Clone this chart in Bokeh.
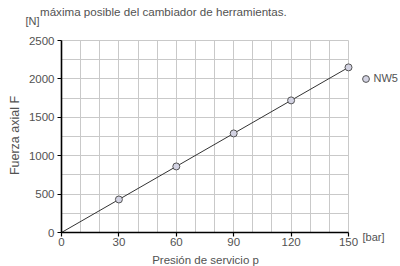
import math
from bokeh.plotting import figure
from bokeh.models import (Range1d, FixedTicker, Label, Legend, LegendItem,
                          LinearAxis, Grid)
from bokeh.embed import file_html
from bokeh.resources import INLINE

# ---- data ----
pressure = [0, 30, 60, 90, 120, 150]
force = [0, 430, 860, 1290, 1720, 2150]
marker_pressure = [30, 60, 90, 120, 150]
marker_force = [430, 860, 1290, 1720, 2150]
x_ticks = [0, 30, 60, 90, 120, 150]
y_ticks = [0, 500, 1000, 1500, 2000, 2500]
x_grid_step = 10
y_grid_step = 250
series_name = "NW5"
title_text = "máxima posible del cambiador de herramientas."
x_label = "Presión de servicio p"
y_label = "Fuerza axial F"
x_unit = "[bar]"
y_unit = "[N]"

FONT = "Liberation Sans"
TXT = "#525252"

# canvas and plotting-area geometry (pixels)
W, H = 400, 266
AL, AR, AT, AB = 61, 348, 40, 232      # data-area edges inside the canvas
XMAX, YMAX = x_ticks[-1], y_ticks[-1]
px_x = (AR - AL) / XMAX
px_y = (AB - AT) / YMAX
x0, x1 = -AL / px_x, XMAX + (W - AR) / px_x
y0, y1 = -(H - AB) / px_y, YMAX + AT / px_y


def dx(px):
    return x0 + px / px_x


def dy(py):
    return y1 - py / px_y


p = figure(width=W, height=H, output_backend="svg", toolbar_location=None,
           x_range=Range1d(x0, x1), y_range=Range1d(y0, y1),
           x_axis_type=None, y_axis_type=None,
           min_border=0)
p.outline_line_color = None
p.background_fill_color = "white"
p.border_fill_color = "white"

# grids limited to the data area
gx = Grid(dimension=0, ticker=FixedTicker(ticks=list(range(0, XMAX + 1, x_grid_step))),
          bounds=(0, XMAX))
gy = Grid(dimension=1, ticker=FixedTicker(ticks=list(range(0, YMAX + 1, y_grid_step))),
          bounds=(0, YMAX))
if hasattr(gx, "cross_bounds"):
    gx.cross_bounds = (0, YMAX)
    gy.cross_bounds = (0, XMAX)
for g in (gx, gy):
    g.grid_line_color = "#c9c9c9"
    g.grid_line_width = 1
    p.add_layout(g, "center")

xa = LinearAxis(fixed_location=0, bounds=(0, XMAX),
                ticker=FixedTicker(ticks=x_ticks, minor_ticks=[]))
ya = LinearAxis(fixed_location=0, bounds=(0, YMAX),
                ticker=FixedTicker(ticks=y_ticks, minor_ticks=[]))
for ax in (xa, ya):
    ax.axis_line_color = "black"
    ax.axis_line_width = 1.6
    ax.major_tick_line_color = "black"
    ax.major_tick_line_width = 1.2
    ax.major_tick_out = 4
    ax.major_tick_in = 0
    ax.minor_tick_line_color = None
    ax.major_label_text_font = FONT
    ax.major_label_text_font_size = "11.5px"
    ax.major_label_text_color = TXT
xa.major_label_standoff = 1
ya.major_label_standoff = 3
p.add_layout(xa, "below")
p.add_layout(ya, "left")

p.line(pressure, force, line_color="#333333", line_width=1)
r = p.scatter(marker_pressure, marker_force, size=7, fill_color="#d3d3e3",
              line_color="#555555", line_width=1)

GL = 17  # legend glyph box; marker drawn at 0.4 of it
legend = Legend(items=[LegendItem(label=series_name, renderers=[r])],
                location=(365 - GL / 2, H - 78 - GL / 2), padding=0, margin=0,
                border_line_color=None, background_fill_alpha=0,
                glyph_width=GL, glyph_height=GL, label_standoff=0,
                label_height=GL,
                label_text_font=FONT, label_text_font_size="11px",
                label_text_color=TXT)
p.add_layout(legend, "center")


def txt(text, px, py, align="left", baseline="alphabetic", angle=0.0, size="11px"):
    p.add_layout(Label(x=dx(px), y=dy(py), text=text, text_align=align,
                       text_baseline=baseline, angle=angle,
                       text_font=FONT, text_font_size=size, text_color=TXT))


txt(title_text, 39.5, 10.5, size="11.6px")
txt(y_unit, 25, 20)
txt(x_unit, 362, 236)
txt(x_label, 205, 259.5, align="center", size="11.5px")
txt(y_label, 14, 135, align="center", baseline="middle", angle=math.pi / 2,
    size="12.5px")

open("out.html", "w").write(file_html(p, INLINE))
